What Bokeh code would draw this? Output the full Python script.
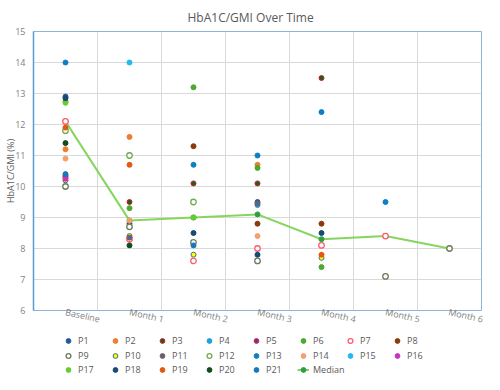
import math
from bokeh.plotting import figure
from bokeh.layouts import column
from bokeh.models import (ColumnDataSource, FactorRange, Range1d, FixedTicker,
                          Legend, LegendItem)
from bokeh.embed import file_html
from bokeh.resources import INLINE

NA = float("nan")

categories = ["Baseline", "Month 1", "Month 2", "Month 3", "Month 4", "Month 5", "Month 6"]
y_ticks = [6, 7, 8, 9, 10, 11, 12, 13, 14, 15]

P1 = [12.9, 8.8, NA, 9.5, NA, NA, NA]
P2 = [11.2, 11.6, NA, 10.7, NA, NA, NA]
P3 = [NA, 9.5, 10.1, 10.1, 13.5, NA, NA]
P4 = [NA, NA, NA, 9.4, NA, NA, NA]
P5 = [10.3, NA, NA, NA, NA, NA, NA]
P6 = [12.75, 9.3, 13.2, 10.6, 7.4, NA, NA]
P7 = [12.1, 8.3, 7.6, 8.0, 8.1, 8.4, NA]
P8 = [10.35, NA, 11.3, 8.8, 8.8, NA, NA]
P9 = [10.0, 8.7, 8.2, 7.6, NA, 7.1, 8.0]
P10 = [10.2, 8.4, 7.8, NA, 7.7, NA, NA]
P11 = [NA, 8.35, NA, 9.45, NA, NA, NA]
P12 = [11.8, 11.0, 9.5, NA, NA, NA, NA]
P13 = [14.0, NA, 10.7, 11.0, 12.4, 9.5, NA]
P14 = [10.9, 8.9, NA, 8.4, NA, NA, NA]
P15 = [NA, 14.0, NA, NA, NA, NA, NA]
P16 = [10.25, NA, NA, NA, NA, NA, NA]
P17 = [12.7, NA, 9.0, NA, NA, NA, NA]
P18 = [12.85, NA, 8.5, 7.8, 8.5, NA, NA]
P19 = [11.9, 10.7, NA, NA, 7.8, NA, NA]
P20 = [11.4, 8.1, NA, NA, NA, NA, NA]
P21 = [10.4, NA, 8.1, NA, NA, NA, NA]
median = [12.1, 8.9, 9.0, 9.1, 8.3, 8.4, 8.0]

participants = [("P1", P1), ("P2", P2), ("P3", P3), ("P4", P4), ("P5", P5), ("P6", P6),
                ("P7", P7), ("P8", P8), ("P9", P9), ("P10", P10), ("P11", P11),
                ("P12", P12), ("P13", P13), ("P14", P14), ("P15", P15), ("P16", P16),
                ("P17", P17), ("P18", P18), ("P19", P19), ("P20", P20), ("P21", P21)]

# (fill, line, hollow)
styles = {
    "P1": ("#1F5C99", "#1F5C99", False),
    "P2": ("#ED7D31", "#ED7D31", False),
    "P3": ("#1B5E20", "#D0202A", False),
    "P4": ("#1BA1E2", "#1BA1E2", False),
    "P5": ("#7030A0", "#E0204A", False),
    "P6": ("#4EA72E", "#4EA72E", False),
    "P7": ("#FFFFFF", "#FF5C6C", True),
    "P8": ("#8B3A0E", "#8B3A0E", False),
    "P9": ("#FFFFFF", "#6B7B5A", True),
    "P10": ("#FFFF00", "#3E6E8E", False),
    "P11": ("#3A6EA5", "#A0522D", False),
    "P12": ("#FFFFFF", "#70AD47", True),
    "P13": ("#0F7FC5", "#0F7FC5", False),
    "P14": ("#F4A06A", "#F4A06A", False),
    "P15": ("#22B8F0", "#22B8F0", False),
    "P16": ("#CC33BB", "#CC33BB", False),
    "P17": ("#66CC33", "#66CC33", False),
    "P18": ("#1A4A72", "#1A4A72", False),
    "P19": ("#E05A10", "#E05A10", False),
    "P20": ("#0F4D1A", "#0F4D1A", False),
    "P21": ("#1877B8", "#1877B8", False),
}

FONT = "Open Sans"
MED_LINE = "#86D65E"
MED_DOT = "#2EA043"

p = figure(width=484, height=334, output_backend="svg", toolbar_location=None,
           x_range=FactorRange(*categories), y_range=Range1d(6, 15),
           min_border_left=33, min_border_right=3, min_border_top=27,
           min_border_bottom=22)

p.title.text = "HbA1C/GMI Over Time"
p.title.text_font = FONT
p.title.text_font_size = "12px"
p.title.text_font_style = "normal"
p.title.text_color = "#595959"
p.title.align = "left"
p.title.offset = 154
p.title.standoff = 12

p.outline_line_color = "#8DB3D9"
p.outline_line_width = 1

p.yaxis.ticker = FixedTicker(ticks=y_ticks)
p.yaxis.axis_label = "HbA1C/GMI (%)"
p.yaxis.axis_label_text_font = FONT
p.yaxis.axis_label_text_font_size = "9px"
p.yaxis.axis_label_text_font_style = "normal"
p.yaxis.axis_label_text_color = "#595959"
p.yaxis.axis_label_standoff = -5
p.yaxis.major_label_text_font = FONT
p.yaxis.major_label_text_font_size = "9px"
p.yaxis.major_label_text_color = "#7F7F7F"
p.yaxis.major_label_standoff = 8
p.yaxis.axis_line_color = "#5B9BD5"
p.yaxis.axis_line_width = 1.5
p.yaxis.major_tick_line_color = None
p.yaxis.minor_tick_line_color = None
p.yaxis.major_tick_out = 0
p.yaxis.major_tick_in = 0
p.yaxis.minor_tick_out = 0

p.xaxis.major_label_text_font = FONT
p.xaxis.major_label_text_font_size = "9px"
p.xaxis.major_label_text_color = "#7F7F7F"
p.xaxis.major_label_orientation = -0.22
p.xaxis.major_label_standoff = 1
p.xaxis.axis_line_color = None
p.xaxis.major_tick_line_color = None
p.xaxis.minor_tick_line_color = None
p.xaxis.major_tick_out = 0
p.xaxis.major_tick_in = 0

p.ygrid.grid_line_color = "#D9D9D9"
p.xgrid.grid_line_color = "#D9D9D9"
p.xgrid.ticker = FixedTicker(ticks=list(range(1, len(categories))))

# legend strip below the chart; it shows the same series (clipped out of its view)
lp = figure(width=484, height=42, output_backend="svg", toolbar_location=None,
            x_range=FactorRange(*categories), y_range=Range1d(0, 1),
            x_axis_location=None, y_axis_location=None,
            min_border_left=0, min_border_right=0, min_border_top=0,
            min_border_bottom=0)
lp.outline_line_color = None
lp.xgrid.visible = False
lp.ygrid.visible = False

# median series (drawn under the points)
msrc = ColumnDataSource(dict(x=categories, y=median))
med_kw = dict(line_color=MED_LINE, line_width=2)
dot_kw = dict(size=5, fill_color=MED_DOT, line_color=MED_DOT)
p.line("x", "y", source=msrc, **med_kw)
p.scatter("x", "y", source=msrc, **dot_kw)

items = []
for name, vals in participants:
    xs = [c for c, v in zip(categories, vals) if not math.isnan(v)]
    ys = [v for v in vals if not math.isnan(v)]
    fill, line, hollow = styles[name]
    src = ColumnDataSource(dict(x=xs, y=ys))
    kw = dict(size=5.5 if hollow else 5, fill_color=fill, line_color=line,
              line_width=1.3 if hollow else 1)
    p.scatter("x", "y", source=src, **kw)
    r = lp.scatter("x", "y", source=src, **kw)
    items.append(LegendItem(label=name, renderers=[r]))
ml = lp.line("x", "y", source=msrc, **med_kw)
md = lp.scatter("x", "y", source=msrc, **dot_kw)
items.append(LegendItem(label="Median", renderers=[ml, md]))

n_rows = 3
row_pitch = 14.5
for k, start in enumerate(range(0, len(items), 8)):
    row = Legend(items=items[start:start + 8],
                 location=(29, row_pitch * (n_rows - 1 - k)),
                 orientation="horizontal",
                 glyph_width=12, glyph_height=13, label_height=13, label_width=31,
                 label_standoff=4, spacing=0, padding=0, margin=0,
                 label_text_font=FONT, label_text_font_size="9px",
                 label_text_color="#595959", border_line_color=None,
                 background_fill_alpha=0)
    lp.add_layout(row, "center")

layout = column(p, lp, spacing=0)
open("out.html", "w").write(file_html(layout, INLINE))
